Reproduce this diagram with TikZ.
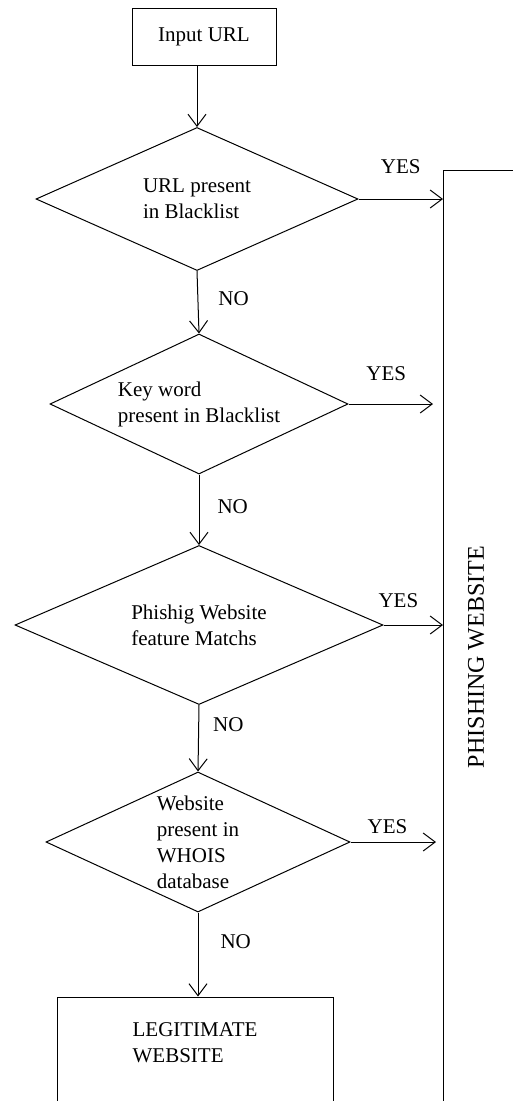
\documentclass[tikz,border=0pt]{standalone}
\usepackage{xcolor}
\usepackage{fontspec}
\setmainfont{Liberation Serif}
\usepackage{tikz}
\usetikzlibrary{shapes.geometric,arrows.meta,positioning}

\tikzset{
  box/.style={draw, line width=1pt, inner sep=0pt},
  decision/.style={draw, diamond, line width=1pt, inner sep=0pt, align=left},
  arr/.style={line width=1pt, -{Straight Barb[length=12pt,width=18pt,line width=1pt]}},
  lbl/.style={inner sep=2pt}
}

\begin{document}
\begin{tikzpicture}[x=1pt,y=-1pt,font=\fontsize{21}{26}\selectfont]
  % ------- page size -------
  \useasboundingbox (0,0) rectangle (513,1101);

  % ------- boxes and decisions -------
  \node[box, minimum width=144pt, minimum height=57pt] (input) at (204,36.5) {Input URL};
  \node[decision, aspect=2.25, minimum width=322pt, minimum height=143pt] (d1) at (197,199)
        {URL present\\in Blacklist};
  \node[decision, aspect=2.13, minimum width=298pt, minimum height=140pt] (d2) at (199,404)
        {Key word\\present in Blacklist};
  \node[decision, aspect=2.31, minimum width=368pt, minimum height=159pt] (d3) at (199,625)
        {Phishig Website\\feature Matchs};
  \node[decision, aspect=2.17, minimum width=304pt, minimum height=140pt] (d4) at (198,842)
        {Website\\present in\\WHOIS\\database};
  \node[box, minimum width=276pt, minimum height=104pt, align=left] (legit) at (195,1049)
        {LEGITIMATE\\WEBSITE\\[-14pt]};

  % ------- phishing box (runs off the page) -------
  \node[box, rotate=90, minimum width=961pt, minimum height=100pt, anchor=north east]
        (phish) at (443,170) {};
  \node[rotate=90, font=\fontsize{24}{28}\selectfont] (phishtxt) at (476,657) {PHISHING WEBSITE};

  % ------- NO arrows -------
  \draw[arr] (input.south -| d1.north) -- (d1.north);
  \draw[arr] (d1.south) -- (d2.north) node[lbl, pos=0.45, right=18pt] {NO};
  \draw[arr] (d2.south) -- (d3.north) node[lbl, pos=0.45, right=16pt] {NO};
  \draw[arr] (d3.south) -- (d4.north) node[lbl, pos=0.3, right=12pt] {NO};
  \draw[arr] (d4.south) -- (d4.south |- legit.north) node[lbl, pos=0.35, right=20pt] {NO};

  % ------- YES arrows -------
  \draw[arr] (d1.east) -- (d1.east -| phish.north) node[lbl, midway, above=23pt] {YES};
  \draw[arr, shorten >=10pt] (d2.east) -- (d2.east -| phish.north) node[lbl, pos=0.4, above=21pt] {YES};
  \draw[arr] (d3.east) -- (d3.east -| phish.north) node[lbl, pos=0.25, above=15pt] {YES};
  \draw[arr, shorten >=7pt] (d4.east) -- (d4.east -| phish.north) node[lbl, pos=0.4, above=6pt] {YES};
\end{tikzpicture}
\end{document}
